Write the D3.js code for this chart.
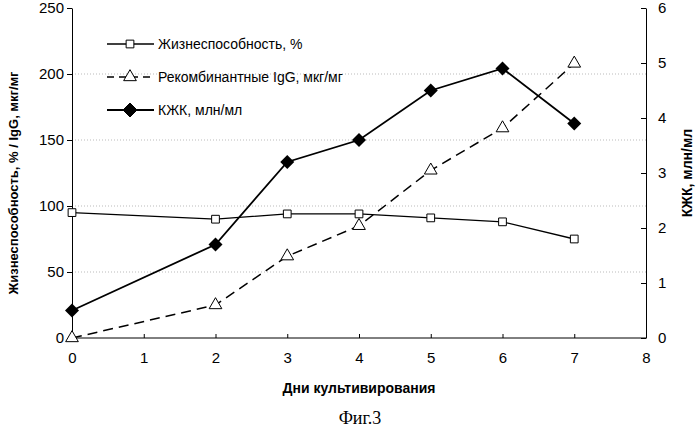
<!DOCTYPE html><html><head><meta charset="utf-8"><script src="https://d3js.org/d3.v7.min.js"></script>
<style>body{margin:0;background:#fff}</style></head><body><svg width="700" height="432" font-family="Arial, 'Liberation Sans', sans-serif"></svg><script>
const days=[0,2,3,4,5,6,7];
const viability=[95,90,94,94,91,88,75];
const igg=[0,25,62,85,127,159,208];
const kzhk=[0.5,1.7,3.2,3.6,4.5,4.9,3.9];
const xTicks=[0,1,2,3,4,5,6,7,8];
const yLeftTicks=[0,50,100,150,200,250];
const yRightTicks=[0,1,2,3,4,5,6];
const svg=d3.select("svg");
const L=72,R=646,T=8,B=338;
const x=d3.scaleLinear().domain([0,8]).range([L,R]);
const yl=d3.scaleLinear().domain([0,250]).range([B,T]);
const yr=d3.scaleLinear().domain([0,6]).range([B,T]);
svg.append("g").selectAll("line").data([50,100,150,200]).join("line")
 .attr("x1",L).attr("x2",R).attr("y1",d=>yl(d)).attr("y2",d=>yl(d))
 .attr("stroke","#bbb").attr("stroke-dasharray","1,2");
const ax=svg.append("g").attr("transform",`translate(0,${B})`).call(d3.axisBottom(x).tickValues(xTicks).tickSize(-4).tickPadding(14));
const al=svg.append("g").attr("transform",`translate(${L},0)`).call(d3.axisLeft(yl).tickValues(yLeftTicks).tickSize(5).tickSizeOuter(0));
const ar=svg.append("g").attr("transform",`translate(${R},0)`).call(d3.axisRight(yr).tickValues(yRightTicks).tickFormat(d3.format("d")).tickSize(-5).tickPadding(12).tickSizeOuter(0));
[ax,al,ar].forEach(g=>{g.selectAll("text").attr("font-size",15).attr("font-family","Arial, 'Liberation Sans', sans-serif").attr("fill","#000");g.selectAll("path,line").attr("stroke","#000");});
ax.select(".domain").attr("d",`M${L},0H${R}`);
const ln=(vals,ys)=>d3.line().x((d,i)=>x(days[i])).y(d=>ys(d))(vals);
svg.append("path").attr("d",ln(igg,yl)).attr("fill","none").attr("stroke","#000").attr("stroke-width",1.5).attr("stroke-dasharray","10,6");
svg.append("path").attr("d",ln(viability,yl)).attr("fill","none").attr("stroke","#000").attr("stroke-width",1.3);
svg.append("path").attr("d",ln(kzhk,yr)).attr("fill","none").attr("stroke","#000").attr("stroke-width",1.8);
const tri=d3.symbol().type(d3.symbolTriangle).size(70)();
const sq=d3.symbol().type(d3.symbolSquare).size(60)();
const dia="M0,-7L7,0L0,7L-7,0Z";
svg.append("g").selectAll("path").data(igg).join("path").attr("d",tri).attr("transform",(d,i)=>`translate(${x(days[i])},${yl(d)})`).attr("fill","#fff").attr("stroke","#000");
svg.append("g").selectAll("path").data(viability).join("path").attr("d",sq).attr("transform",(d,i)=>`translate(${x(days[i])},${yl(d)})`).attr("fill","#fff").attr("stroke","#000");
svg.append("g").selectAll("path").data(kzhk).join("path").attr("d",dia).attr("transform",(d,i)=>`translate(${x(days[i])},${yr(d)})`).attr("fill","#000");
const leg=[["Жизнеспособность, %",sq,"#fff",null,1.3],["Рекомбинантные IgG, мкг/мг",tri,"#fff","7,5",1.5],["КЖК, млн/мл",dia,"#000",null,1.8]];
leg.forEach((l,i)=>{const yy=44+i*33;
 svg.append("line").attr("x1",107).attr("x2",154).attr("y1",yy).attr("y2",yy).attr("stroke","#000").attr("stroke-width",l[4]).attr("stroke-dasharray",l[3]);
 svg.append("path").attr("d",l[1]).attr("transform",`translate(130,${yy})`).attr("fill",l[2]).attr("stroke","#000");
 svg.append("text").attr("x",158).attr("y",yy+5).attr("font-size",14).text(l[0]);});
svg.append("text").attr("x",(L+R)/2).attr("y",393).attr("text-anchor","middle").attr("font-size",14).attr("font-weight","bold").text("Дни культивирования");
svg.append("text").attr("x",360).attr("y",424).attr("text-anchor","middle").attr("font-size",18).attr("font-family","'Liberation Serif', 'DejaVu Serif', serif").text("Фиг.3");
svg.append("text").attr("transform",`translate(18,${(T+B)/2+10}) rotate(-90)`).attr("text-anchor","middle").attr("font-size",13).attr("font-weight","bold").text("Жизнеспособность, % / IgG, мкг/мг");
svg.append("text").attr("transform",`translate(692,${(T+B)/2}) rotate(-90)`).attr("text-anchor","middle").attr("font-size",14).attr("font-weight","bold").text("КЖК, млн/мл");
</script></body></html>
